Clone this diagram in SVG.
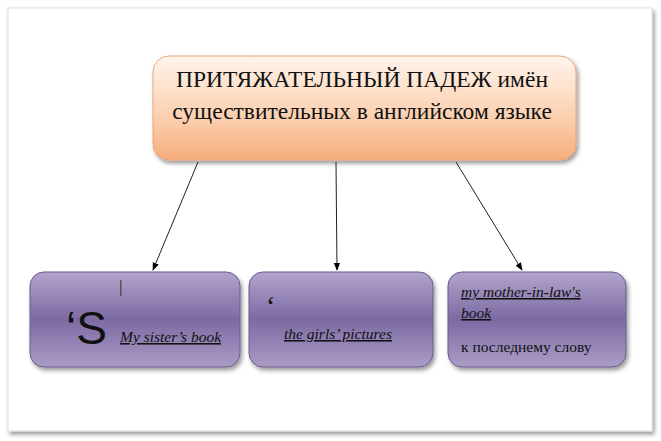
<svg xmlns="http://www.w3.org/2000/svg" width="661" height="441" viewBox="0 0 661 441">
<defs>
<linearGradient id="og" x1="0" y1="0" x2="0" y2="1"><stop offset="0" stop-color="#fff4ec"/><stop offset="0.6" stop-color="#fbcfae"/><stop offset="1" stop-color="#f6ad7c"/></linearGradient>
<linearGradient id="pg" x1="0" y1="0" x2="0" y2="1"><stop offset="0" stop-color="#b3a4cc"/><stop offset="0.5" stop-color="#7c6aa3"/><stop offset="1" stop-color="#ab9cc6"/></linearGradient>
<marker id="ar" viewBox="0 0 10 10" refX="9" refY="5" markerWidth="8" markerHeight="8" orient="auto"><path d="M0,1 L10,5 L0,9 z" fill="#000"/></marker>
<filter id="sh"><feDropShadow dx="2" dy="3" stdDeviation="2" flood-opacity="0.4"/></filter>
</defs>
<style>
.p{fill:url(#pg);stroke:#6a5a8f;stroke-width:1;filter:url(#sh)}
.t{font-family:"Liberation Serif",serif;fill:#111}
.i{font-family:"Liberation Serif",serif;font-style:italic;font-size:15.5px;text-decoration:underline;fill:#111}
line{stroke:#222;stroke-width:1;marker-end:url(#ar)}
</style>
<rect x="0" y="0" width="661" height="441" fill="#fff"/>
<rect x="8" y="8" width="644" height="423" fill="#fff" stroke="#ddd" filter="url(#sh)"/>
<g id="top"><rect x="153" y="56" width="423" height="104" rx="16" fill="url(#og)" stroke="#e9a57a" filter="url(#sh)"/>
<text class="t" font-size="23.5" x="362" y="87" text-anchor="middle">ПРИТЯЖАТЕЛЬНЫЙ ПАДЕЖ имён</text>
<text class="t" font-size="23.5" x="362" y="119" text-anchor="middle">существительных в английском языке</text></g>
<g id="connectors"><line x1="198" y1="162" x2="153" y2="270"/><line x1="336" y1="162" x2="337" y2="270"/><line x1="456" y1="162" x2="522" y2="270"/></g>
<g id="n1"><rect class="p" x="30" y="272" width="210" height="95" rx="14"/>
<rect x="120" y="280" width="1.5" height="16" fill="#555"/>
<text x="66" y="344" font-family="Liberation Sans,sans-serif" font-size="46" fill="#111">‘S</text>
<text class="i" x="120" y="342" font-family="Liberation Sans,sans-serif" font-size="14">My sister’s book</text></g>
<g id="n2"><rect class="p" x="249" y="272" width="184" height="95" rx="14"/>
<text class="t" x="266" y="315" font-size="28">‘</text>
<text class="i" x="284" y="339">the girls’  pictures</text></g>
<g id="n3"><rect class="p" x="448" y="272" width="178" height="95" rx="14"/>
<text class="i" x="461" y="297">my mother-in-law's</text>
<text class="i" x="461" y="318">book</text>
<text class="t" x="461" y="352" font-size="15.5">к последнему слову</text></g>
</svg>
